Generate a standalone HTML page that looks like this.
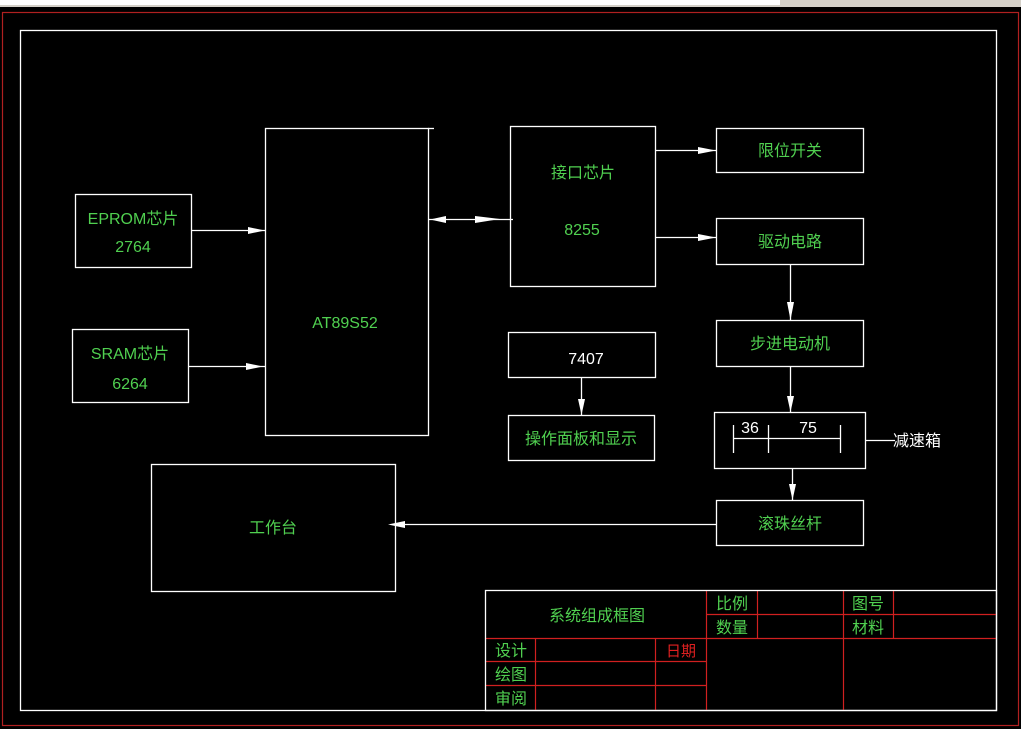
<!DOCTYPE html>
<html><head><meta charset="utf-8"><style>
html,body{margin:0;padding:0;background:#000;width:1021px;height:729px;overflow:hidden}
svg{display:block}
text{font-family:"Liberation Sans","Noto Sans CJK SC",sans-serif}
.g{fill:#50d050;font-size:16px}
.w{fill:#fff;font-size:16px}
.r{fill:#e02020;font-size:15px}
</style></head><body>
<svg width="1021" height="729" viewBox="0 0 1021 729" xmlns="http://www.w3.org/2000/svg">
<rect x="0" y="0" width="1021" height="729" fill="#000"/>
<rect x="0" y="0" width="1021" height="7" fill="#d4d0c8"/>
<rect x="0" y="0" width="780" height="5" fill="#fff"/>
<rect x="2.5" y="12.5" width="1016" height="713" fill="none" stroke="#b02020" stroke-width="1.2"/>
<g fill="none" stroke="#fff" stroke-width="1.3">
<rect x="20.5" y="30.5" width="976" height="680"/>
<rect x="265.5" y="128.5" width="163" height="307"/>
<line x1="428" y1="128.5" x2="434" y2="128.5"/>
<rect x="75.5" y="194.5" width="116" height="73"/>
<rect x="72.5" y="329.5" width="116" height="73"/>
<rect x="510.5" y="126.5" width="145" height="160"/>
<rect x="716.5" y="128.5" width="147" height="44"/>
<rect x="716.5" y="218.5" width="147" height="46"/>
<rect x="716.5" y="320.5" width="147" height="46"/>
<rect x="714.5" y="412.5" width="151" height="56"/>
<rect x="716.5" y="500.5" width="147" height="45"/>
<rect x="151.5" y="464.5" width="244" height="127"/>
<rect x="508.5" y="332.5" width="147" height="45"/>
<rect x="508.5" y="415.5" width="146" height="45"/>
<!-- connectors -->
<line x1="191" y1="230.5" x2="265" y2="230.5"/>
<line x1="188" y1="366.5" x2="265" y2="366.5"/>
<line x1="428" y1="219.5" x2="513" y2="219.5"/>
<line x1="655" y1="150.5" x2="716" y2="150.5"/>
<line x1="655" y1="237.5" x2="716" y2="237.5"/>
<line x1="790.5" y1="264" x2="790.5" y2="320"/>
<line x1="790.5" y1="366" x2="790.5" y2="412"/>
<line x1="792.5" y1="468" x2="792.5" y2="500"/>
<line x1="581.5" y1="377" x2="581.5" y2="415"/>
<line x1="395" y1="524.5" x2="716" y2="524.5"/>
<line x1="865" y1="440.5" x2="895" y2="440.5"/>
<!-- gearbox inner -->
<line x1="733" y1="438.5" x2="840" y2="438.5"/>
<line x1="733.5" y1="425" x2="733.5" y2="453"/>
<line x1="768.5" y1="425" x2="768.5" y2="453"/>
<line x1="840.5" y1="425" x2="840.5" y2="453"/>
</g>
<!-- arrowheads -->
<g fill="#fff">
<polygon points="248,227 265,230.5 248,234"/>
<polygon points="246,363 263,366.5 246,370"/>
<polygon points="430,219.5 446,216 446,223"/>
<polygon points="475,216 500,219 475,223"/>
<polygon points="698,147 716,150.5 698,154"/>
<polygon points="698,234 716,237.5 698,241"/>
<polygon points="787,302 790.5,320 794,302"/>
<polygon points="787,396 790.5,412 794,396"/>
<polygon points="789,484 792.5,500 796,484"/>
<polygon points="578,399 581.5,415 585,399"/>
<polygon points="405,521 388,524.5 405,528"/>
</g>
<!-- labels -->
<text class="g" x="133" y="224" text-anchor="middle">EPROM芯片</text>
<text class="g" x="133" y="252" text-anchor="middle">2764</text>
<text class="g" x="130" y="359" text-anchor="middle">SRAM芯片</text>
<text class="g" x="130" y="389" text-anchor="middle">6264</text>
<text class="g" x="345" y="328" text-anchor="middle">AT89S52</text>
<text class="g" x="583" y="178" text-anchor="middle" font-size="15">接口芯片</text>
<text class="g" x="582" y="235" text-anchor="middle">8255</text>
<text class="g" x="790" y="156" text-anchor="middle" font-size="15">限位开关</text>
<text class="g" x="790" y="247" text-anchor="middle" font-size="15">驱动电路</text>
<text class="g" x="790" y="349" text-anchor="middle" font-size="15">步进电动机</text>
<text class="g" x="790" y="529" text-anchor="middle" font-size="15">滚珠丝杆</text>
<text class="g" x="273" y="533" text-anchor="middle" font-size="15">工作台</text>
<text class="w" x="586" y="364" text-anchor="middle">7407</text>
<text class="g" x="581" y="444" text-anchor="middle" font-size="15">操作面板和显示</text>
<text class="w" x="750" y="433" text-anchor="middle">36</text>
<text class="w" x="808" y="433" text-anchor="middle">75</text>
<text class="w" x="917" y="446" text-anchor="middle" font-size="15">减速箱</text>
<!-- title block -->
<g stroke="#d02020" stroke-width="1.2" fill="none">
<line x1="706.5" y1="591" x2="706.5" y2="710"/>
<line x1="757.5" y1="591" x2="757.5" y2="638"/>
<line x1="843.5" y1="591" x2="843.5" y2="710"/>
<line x1="893.5" y1="591" x2="893.5" y2="638"/>
<line x1="706" y1="614.5" x2="996" y2="614.5"/>
<line x1="485" y1="638.5" x2="996" y2="638.5"/>
<line x1="535.5" y1="638" x2="535.5" y2="710"/>
<line x1="655.5" y1="638" x2="655.5" y2="710"/>
<line x1="485" y1="661.5" x2="706" y2="661.5"/>
<line x1="485" y1="685.5" x2="706" y2="685.5"/>
</g>
<rect x="485.5" y="590.5" width="511" height="120" fill="none" stroke="#fff" stroke-width="1.3"/>
<text class="g" x="597" y="621" text-anchor="middle" font-size="15">系统组成框图</text>
<text class="g" x="732" y="609" text-anchor="middle" font-size="15">比例</text>
<text class="g" x="732" y="633" text-anchor="middle" font-size="15">数量</text>
<text class="g" x="868" y="609" text-anchor="middle" font-size="15">图号</text>
<text class="g" x="868" y="633" text-anchor="middle" font-size="15">材料</text>
<text class="g" x="511" y="656" text-anchor="middle" font-size="15">设计</text>
<text class="r" x="681" y="656" text-anchor="middle">日期</text>
<text class="g" x="511" y="680" text-anchor="middle" font-size="15">绘图</text>
<text class="g" x="511" y="704" text-anchor="middle" font-size="15">审阅</text>
</svg>
</body></html>
